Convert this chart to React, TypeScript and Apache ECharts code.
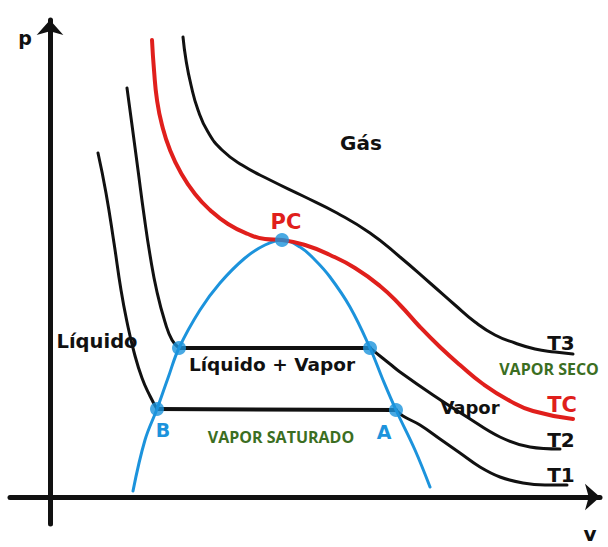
import React, { useEffect, useRef } from "react";
import * as echarts from "echarts";

// Isotherms in (V, P) units
const t1Liquid: number[][] = [
  [4.8, 34.4], [5.6, 30.4], [6.4, 25.4], [7.1, 20.7], [7.7, 17.5], [8.4, 14.5], [9.2, 11.9], [10, 10.1], [10.7, 8.8],
];
const t1Tie: number[][] = [[10.7, 8.8], [34.6, 8.7]];
const t1Vapor: number[][] = [
  [34.6, 8.7], [35.3, 8.1], [37, 7.2], [39, 5.8], [41, 4.4], [43, 3.0], [45, 2.0], [47.3, 1.4], [49.5, 1.2], [51.7, 1.2],
];

const t2Liquid: number[][] = [
  [7.7, 40.9], [8.2, 37.2], [8.8, 32.7], [9.4, 28.2], [10, 24.2], [10.7, 20.5], [11.5, 17.5], [12.2, 15.7], [12.9, 14.9],
];
const t2Tie: number[][] = [[12.9, 14.9], [32, 14.9]];
const t2Vapor: number[][] = [
  [32, 14.9], [33, 14.1], [34, 13.3], [35, 12.5], [38.3, 10.2], [41.7, 8.0], [45, 6.0], [48, 5.0], [51, 4.8],
];

const tcCurve: number[][] = [
  [10.2, 45.7], [10.4, 42.7], [10.7, 39.7], [11.2, 37.2], [12, 34.7], [13.1, 32.4], [14.5, 30.3], [16, 28.7],
  [17.8, 27.3], [19.8, 26.3], [21.5, 25.8], [23.2, 25.7], [25.5, 25.2], [28, 24.2], [30.5, 22.9], [33, 21.1],
  [35, 19.2], [37, 17], [39, 15], [41, 13.2], [43.3, 11.3], [46, 9.6], [48.3, 8.6], [52.3, 7.8],
];

const t3Curve: number[][] = [
  [13.3, 46], [13.6, 43.7], [14.1, 41.2], [14.8, 38.7], [15.8, 36.5], [17.2, 34.7], [19.2, 33.2], [22, 31.7],
  [25.3, 30.1], [28.7, 28.4], [32, 26.4], [35, 24], [38, 21.4], [40.5, 19.2], [42.5, 17.5], [44.5, 16.2],
  [46.5, 15.4], [48.5, 14.8], [50.5, 14.5], [52.3, 14.3],
];

const saturationDome: number[][] = [
  [8.3, 0.6], [9.5, 5.7], [10.7, 8.8], [11.8, 11.9], [12.9, 14.9], [15, 18.7], [17, 21.4], [19.5, 23.9],
  [21.5, 25.2], [23.2, 25.7], [25, 25], [26.5, 23.7], [28, 22], [30, 19], [32, 14.9], [33.3, 11.7],
  [34.6, 8.7], [36.5, 4.7], [38, 1],
];

const saturationPoints: number[][] = [[10.7, 8.8], [12.9, 14.9], [23.2, 25.7], [32, 14.9], [34.6, 8.7]];

const BLACK = "#111111";
const RED = "#e01f1c";
const BLUE = "#1c93dc";
const GREEN = "#3b6e22";
const SANS = "DejaVu Sans";

function curve(data: number[][], color: string, width: number, smooth: number | boolean, z = 2) {
  return {
    type: "line",
    data,
    smooth,
    showSymbol: false,
    symbol: "none",
    lineStyle: { color, width, cap: "round", join: "round" },
    z,
    silent: true,
  };
}

function label(text: string, x: number, y: number, color: string, size: number, family = SANS) {
  return {
    type: "text",
    x,
    y,
    z: 10,
    style: {
      text,
      fill: color,
      font: `bold ${size}px "${family}"`,
      align: "center",
      verticalAlign: "middle",
    },
  };
}

export default function App() {
  const ref = useRef<HTMLDivElement>(null);
  useEffect(() => {
    if (!ref.current) return;
    const chart = echarts.init(ref.current, null, { renderer: "svg" });
    const axisCommon = {
      type: "value",
      splitLine: { show: false },
      axisTick: { show: false },
      axisLabel: { show: false },
      axisLine: {
        show: true,
        onZero: true,
        symbol: ["none", "arrow"],
        symbolSize: [20, 15],
        lineStyle: { color: BLACK, width: 5 },
      },
    };
    chart.setOption({
      animation: false,
      backgroundColor: "#ffffff",
      grid: { left: 10, right: 8, top: 20, bottom: 23 },
      xAxis: { ...axisCommon, min: -4, max: 55 },
      yAxis: { ...axisCommon, min: -2.7, max: 47.7 },
      series: [
        curve(t1Liquid, BLACK, 3, 0.5),
        curve(t1Tie, BLACK, 4, false),
        curve(t1Vapor, BLACK, 3, 0.4),
        curve(t2Liquid, BLACK, 3, 0.5),
        curve(t2Tie, BLACK, 4, false),
        curve(t2Vapor, BLACK, 3, 0.4),
        curve(t3Curve, BLACK, 3, 0.5),
        curve(saturationDome, BLUE, 3, 0.4, 3),
        curve(tcCurve, RED, 4, 0.5, 4),
        {
          type: "scatter",
          data: saturationPoints,
          symbol: "circle",
          symbolSize: 14,
          itemStyle: { color: BLUE },
          z: 5,
          silent: true,
        },
      ],
      graphic: [
        label("p", 25, 38, BLACK, 19),
        label("v", 590, 534, BLACK, 20),
        label("Gás", 361, 143, BLACK, 20),
        label("PC", 286, 222, RED, 21),
        label("Líquido", 97, 341, BLACK, 19.5),
        label("Líquido + Vapor", 272, 364, BLACK, 18.5),
        label("Vapor", 470, 407, BLACK, 18),
        label("T3", 561, 343, BLACK, 20),
        label("VAPOR SECO", 549, 369, GREEN, 16, "Open Sans"),
        label("TC", 562, 405, RED, 21),
        label("T2", 561, 440, BLACK, 20),
        label("T1", 561, 475, BLACK, 20),
        label("B", 163, 430, BLUE, 19),
        label("A", 384, 432, BLUE, 19),
        label("VAPOR SATURADO", 281, 437, GREEN, 16, "Open Sans"),
      ],
    });
    return () => chart.dispose();
  }, []);
  return <div ref={ref} style={{ width: 608, height: 547, position: "absolute", left: 0, top: 0 }} />;
}
